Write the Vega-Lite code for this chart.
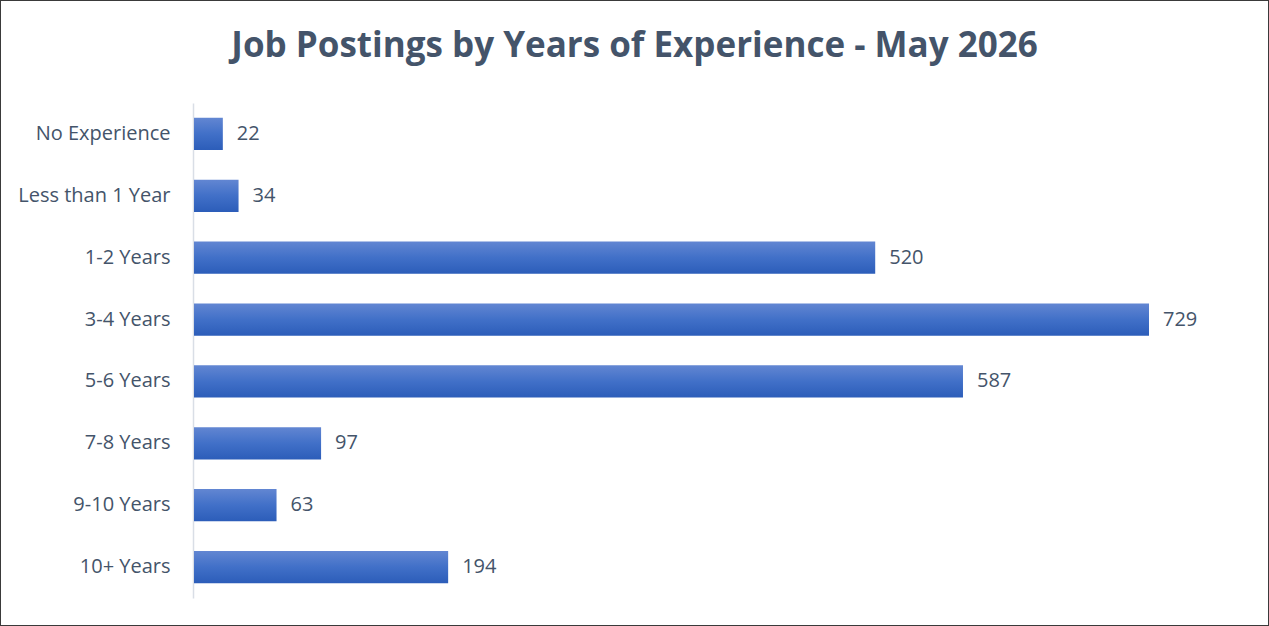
{
  "$schema": "https://vega.github.io/schema/vega-lite/v6.json",
  "autosize": {"type": "none"},
  "padding": 0,
  "width": 1269,
  "height": 626,
  "background": "white",
  "title": {
    "text": "Job Postings by Years of Experience - May 2026",
    "font": "Open Sans",
    "fontSize": 35,
    "fontWeight": "bold",
    "color": "#44546A",
    "anchor": "middle",
    "frame": "group",
    "baseline": "alphabetic",
    "offset": -92
  },
  "data": {
    "values": [
      {"experience": "No Experience", "postings": 22},
      {"experience": "Less than 1 Year", "postings": 34},
      {"experience": "1-2 Years", "postings": 520},
      {"experience": "3-4 Years", "postings": 729},
      {"experience": "5-6 Years", "postings": 587},
      {"experience": "7-8 Years", "postings": 97},
      {"experience": "9-10 Years", "postings": 63},
      {"experience": "10+ Years", "postings": 194}
    ]
  },
  "encoding": {
    "y": {
      "field": "experience",
      "type": "nominal",
      "sort": null,
      "scale": {"paddingInner": 0.48, "paddingOuter": 0.24, "range": [103, 598]},
      "axis": {
        "title": null,
        "ticks": false,
        "domain": true,
        "domainColor": "#D9DEE6",
        "domainWidth": 1.5,
        "offset": -193,
        "labelPadding": 23,
        "labelFont": "Open Sans",
        "labelFontSize": 20,
        "labelColor": "#44546A"
      }
    },
    "x": {
      "field": "postings",
      "type": "quantitative",
      "scale": {"domain": [-148.1, 820.6], "nice": false, "zero": false},
      "axis": null
    }
  },
  "layer": [
    {
      "mark": {
        "type": "bar",
        "color": {
          "gradient": "linear",
          "x1": 0, "y1": 0, "x2": 0, "y2": 1,
          "stops": [
            {"offset": 0, "color": "#6286D2"},
            {"offset": 0.5, "color": "#4170C8"},
            {"offset": 1, "color": "#2C5DB9"}
          ]
        }
      },
      "encoding": {"x2": {"datum": 0}}
    },
    {
      "mark": {
        "type": "text",
        "align": "left",
        "baseline": "middle",
        "dx": 14,
        "font": "Open Sans",
        "fontSize": 20,
        "color": "#44546A"
      },
      "encoding": {"text": {"field": "postings", "type": "quantitative"}}
    }
  ],
  "config": {"view": {"stroke": "#3A3A3A", "strokeWidth": 2}}
}
